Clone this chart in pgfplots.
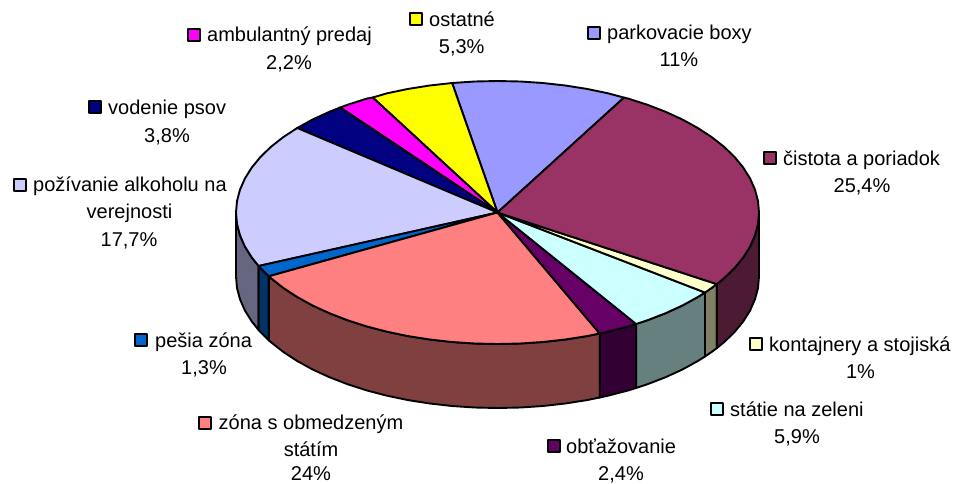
\documentclass[border=0pt]{standalone}
\usepackage{fontspec}
\setmainfont{Liberation Sans}
\usepackage{pgfplots}
\pgfplotsset{compat=1.18}
\definecolor{cPark}{HTML}{9999FF}
\definecolor{cCist}{HTML}{993366}
\definecolor{cKont}{HTML}{FFFFCC}
\definecolor{cStat}{HTML}{CCFFFF}
\definecolor{cObt}{HTML}{660066}
\definecolor{cZona}{HTML}{FF8080}
\definecolor{cPes}{HTML}{0066CC}
\definecolor{cPoz}{HTML}{CCCCFF}
\definecolor{cVod}{HTML}{000080}
\definecolor{cAmb}{HTML}{FF00FF}
\definecolor{cOst}{HTML}{FFFF00}
\definecolor{dCist}{HTML}{4D1A33}
\definecolor{dKont}{HTML}{808066}
\definecolor{dStat}{HTML}{668080}
\definecolor{dObt}{HTML}{330033}
\definecolor{dZona}{HTML}{804040}
\definecolor{dPes}{HTML}{003366}
\definecolor{dPoz}{HTML}{666680}
\pgfplotsset{
  slice/.style={fill=#1,draw=black,line width=1.9pt,line join=round},
  key/.style={only marks,mark=square*,mark size=6pt,mark options={fill=#1,draw=black,line width=2pt,line join=round}}
}
\tikzset{lab/.style={font=\fontsize{20}{24}\selectfont,text=black,inner sep=0pt}}
\begin{document}
\begin{tikzpicture}
\useasboundingbox (0,0) rectangle (955pt,483pt);
\begin{axis}[
  hide axis, scale only axis, width=955pt, height=483pt,
  xmin=0, xmax=955, ymin=0, ymax=483, y dir=reverse, clip=false,
  anchor=south west, at={(0,0)}
]
% side walls
\addplot[slice=dPoz] coordinates {(236,212.5)(237,224)(240,235.3)(244.9,246.5)(251.8,257.5)(258.6,266)(258.6,330)(251.8,321.5)(244.9,310.5)(240,299.3)(237,288)(236,276.5)} --cycle;
\addplot[slice=dPes] coordinates {(258.6,266)(260.5,268.1)(268.8,276.3)(268.8,340.3)(260.5,332.1)(258.6,330)} --cycle;
\addplot[slice=dZona] coordinates {(268.8,276.3)(271,278.25)(283.3,287.9)(297.2,297)(312.6,305.5)(329.4,313.2)(347.5,320.2)(366.7,326.4)(387,331.7)(408.1,336.1)(429.8,339.5)(452.1,342)(474.7,343.5)(497.5,344)(520.3,343.5)(542.9,342)(565.2,339.5)(586.9,336.1)(599.7,333.5)(599.7,397.5)(586.9,400.1)(565.2,403.5)(542.9,406)(520.3,407.5)(497.5,408)(474.7,407.5)(452.1,406)(429.8,403.5)(408.1,400.1)(387,395.7)(366.7,390.4)(347.5,384.2)(329.4,377.2)(312.6,369.5)(297.2,361)(283.3,351.9)(271,342.25)(268.8,340.3)} --cycle;
\addplot[slice=dObt] coordinates {(599.7,333.5)(608,331.7)(628.3,326.4)(636.1,324)(636.1,388)(628.3,390.4)(608,395.7)(599.7,397.5)} --cycle;
\addplot[slice=dStat] coordinates {(636.1,324)(647.5,320.2)(665.6,313.2)(682.4,305.5)(697.8,297)(705,292.5)(705,356.5)(697.8,361)(682.4,369.5)(665.6,377.2)(647.5,384.2)(636.1,388)} --cycle;
\addplot[slice=dKont] coordinates {(705,292.5)(711.7,287.9)(716.8,284.1)(716.8,348.1)(711.7,351.9)(705,356.5)} --cycle;
\addplot[slice=dCist] coordinates {(716.8,284.1)(724,278.25)(734.5,268.1)(743.2,257.5)(750.1,246.5)(755,235.3)(758,224)(759,212.5)(759,276.5)(758,288)(755,299.3)(750.1,310.5)(743.2,321.5)(734.5,332.1)(724,342.25)(716.8,348.1)} --cycle;
% top faces
\addplot[slice=cPark] coordinates {(497.5,212.5)(624,97.6)(608,93.3)(586.9,88.9)(565.2,85.5)(542.9,83)(520.3,81.5)(497.5,81)(474.7,81.5)(452.1,83)} --cycle;
\addplot[slice=cOst] coordinates {(497.5,212.5)(452.1,83)(429.8,85.5)(408.1,88.9)(387,93.3)(372.7,97.5)} --cycle;
\addplot[slice=cAmb] coordinates {(497.5,212.5)(372.7,97.5)(366.7,98.6)(347.5,104.8)(340.1,107.5)} --cycle;
\addplot[slice=cVod] coordinates {(497.5,212.5)(340.1,107.5)(329.4,111.8)(312.6,119.5)(297.2,128)} --cycle;
\addplot[slice=cPoz] coordinates {(497.5,212.5)(297.2,128)(283.3,137.1)(271,146.75)(260.5,156.9)(251.8,167.5)(244.9,178.5)(240,189.7)(237,201)(236,212.5)(237,224)(240,235.3)(244.9,246.5)(251.8,257.5)(258.6,266)} --cycle;
\addplot[slice=cPes] coordinates {(497.5,212.5)(258.6,266)(260.5,268.1)(268.8,276.3)} --cycle;
\addplot[slice=cZona] coordinates {(497.5,212.5)(268.8,276.3)(271,278.25)(283.3,287.9)(297.2,297)(312.6,305.5)(329.4,313.2)(347.5,320.2)(366.7,326.4)(387,331.7)(408.1,336.1)(429.8,339.5)(452.1,342)(474.7,343.5)(497.5,344)(520.3,343.5)(542.9,342)(565.2,339.5)(586.9,336.1)(599.7,333.5)} --cycle;
\addplot[slice=cObt] coordinates {(497.5,212.5)(599.7,333.5)(608,331.7)(628.3,326.4)(636.1,324)} --cycle;
\addplot[slice=cStat] coordinates {(497.5,212.5)(636.1,324)(647.5,320.2)(665.6,313.2)(682.4,305.5)(697.8,297)(705,292.5)} --cycle;
\addplot[slice=cKont] coordinates {(497.5,212.5)(705,292.5)(711.7,287.9)(716.8,284.1)} --cycle;
\addplot[slice=cCist] coordinates {(497.5,212.5)(716.8,284.1)(724,278.25)(734.5,268.1)(743.2,257.5)(750.1,246.5)(755,235.3)(758,224)(759,212.5)(758,201)(755,189.7)(750.1,178.5)(743.2,167.5)(734.5,156.9)(724,146.75)(711.7,137.1)(697.8,128)(682.4,119.5)(665.6,111.8)(647.5,104.8)(628.3,98.6)(624,97.6)} --cycle;
% legend keys
\addplot[key=cAmb] coordinates {(193.7,34.7)};
\addplot[key=cOst] coordinates {(416,18.5)};
\addplot[key=cPark] coordinates {(594,32.5)};
\addplot[key=cVod] coordinates {(95,107)};
\addplot[key=cPoz] coordinates {(19.7,184.7)};
\addplot[key=cCist] coordinates {(770,158)};
\addplot[key=cPes] coordinates {(141,340)};
\addplot[key=cKont] coordinates {(756.3,344.3)};
\addplot[key=cStat] coordinates {(717,409.3)};
\addplot[key=cObt] coordinates {(553.7,445.7)};
\addplot[key=cZona] coordinates {(205,422.7)};
% labels
\node[lab,anchor=base west] at (axis cs:207,41.7) {ambulantný predaj};
\node[lab,anchor=base] at (axis cs:289,69) {2,2\%};
\node[lab,anchor=base west] at (axis cs:429,26) {ostatné};
\node[lab,anchor=base] at (axis cs:461.7,53.3) {5,3\%};
\node[lab,anchor=base west] at (axis cs:607,39.5) {parkovacie boxy};
\node[lab,anchor=base] at (axis cs:679,66.7) {11\%};
\node[lab,anchor=base west] at (axis cs:108,114) {vodenie psov};
\node[lab,anchor=base] at (axis cs:167,142) {3,8\%};
\node[lab,anchor=base west] at (axis cs:33,191.7) {požívanie alkoholu na};
\node[lab,anchor=base] at (axis cs:129.5,218.7) {verejnosti};
\node[lab,anchor=base] at (axis cs:129,246) {17,7\%};
\node[lab,anchor=base west] at (axis cs:783,165) {čistota a poriadok};
\node[lab,anchor=base] at (axis cs:862,192.3) {25,4\%};
\node[lab,anchor=base west] at (axis cs:155,347) {pešia zóna};
\node[lab,anchor=base] at (axis cs:204,374.3) {1,3\%};
\node[lab,anchor=base west] at (axis cs:769,351.3) {kontajnery a stojiská};
\node[lab,anchor=base] at (axis cs:860.5,378.6) {1\%};
\node[lab,anchor=base west] at (axis cs:730,416.3) {státie na zeleni};
\node[lab,anchor=base] at (axis cs:797,443.6) {5,9\%};
\node[lab,anchor=base west] at (axis cs:566,453.3) {obťažovanie};
\node[lab,anchor=base] at (axis cs:621,480) {2,4\%};
\node[lab,anchor=base west] at (axis cs:218.5,429.3) {zóna s obmedzeným};
\node[lab,anchor=base] at (axis cs:311,456) {státím};
\node[lab,anchor=base] at (axis cs:311,480) {24\%};
\end{axis}
\end{tikzpicture}
\end{document}
